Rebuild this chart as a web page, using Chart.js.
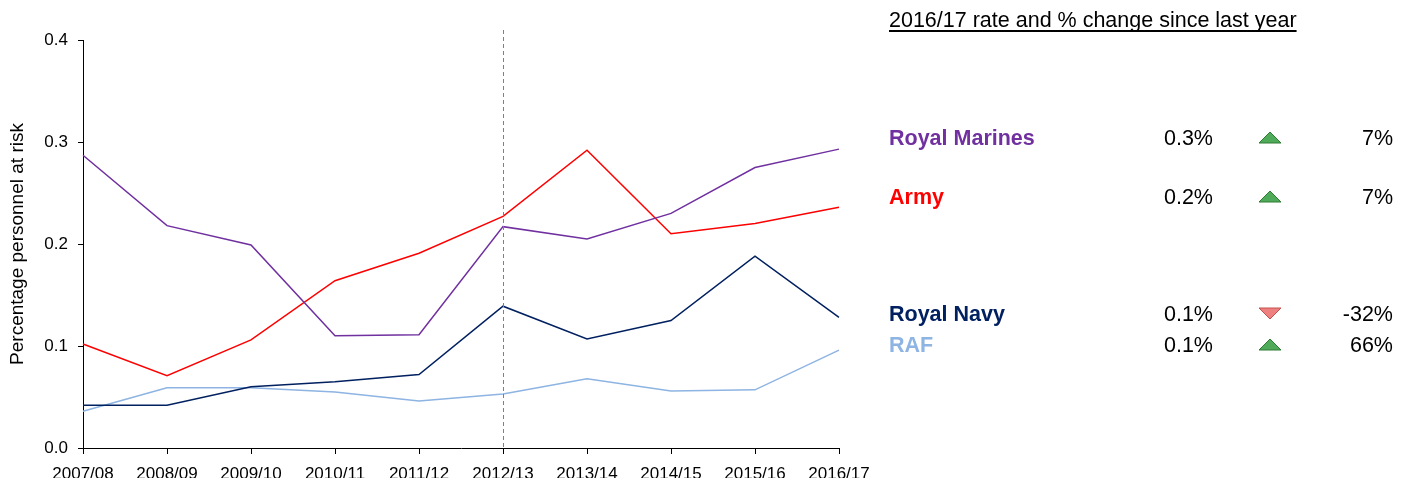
<!DOCTYPE html>
<html>
<head>
<meta charset="utf-8">
<script src="https://cdn.jsdelivr.net/npm/chart.js@4"></script>
<style>
  body { margin: 0; background: #fff; font-family: Arial, "Liberation Sans", sans-serif; }
  #wrap { position: relative; width: 1406px; height: 478px; overflow: hidden; }
  #chartBox { position: absolute; left: 0; top: 0; width: 880px; height: 478px; }
  #panel { position: absolute; left: 0; top: 0; width: 1406px; height: 478px; }
  .ptitle { position: absolute; left: 889px; top: 10px; font-size: 21.5px; line-height: 21px;
    color: #000; text-decoration: underline; text-decoration-thickness: 2px; text-underline-offset: 3px;
    text-decoration-skip-ink: none; white-space: nowrap; }
  .row { position: absolute; left: 0; width: 1406px; height: 21px; font-size: 21.5px; line-height: 21px; }
  .row .name { position: absolute; left: 889px; font-weight: bold; white-space: nowrap; }
  .row .rate { position: absolute; right: calc(1406px - 1213px); color: #000; }
  .row .arrow { position: absolute; left: 1258px; top: -1px; }
  .row .chg { position: absolute; right: calc(1406px - 1393px); color: #000; }
</style>
</head>
<body>
<div id="wrap">
  <div id="chartBox"><canvas id="myChart"></canvas></div>
  <div id="panel"></div>
</div>
<script>
    var years = ['2007/08', '2008/09', '2009/10', '2010/11', '2011/12', '2012/13', '2013/14', '2014/15', '2015/16', '2016/17'];
    var royalMarines = [0.287, 0.218, 0.199, 0.110, 0.111, 0.217, 0.205, 0.230, 0.275, 0.293];
    var army = [0.102, 0.071, 0.106, 0.164, 0.191, 0.227, 0.292, 0.210, 0.220, 0.236];
    var royalNavy = [0.042, 0.042, 0.060, 0.065, 0.072, 0.139, 0.107, 0.125, 0.188, 0.128];
    var raf = [0.036, 0.059, 0.059, 0.055, 0.046, 0.053, 0.068, 0.056, 0.057, 0.096];

    // right hand summary table
    var panelNames = ['Royal Marines', 'Army', 'Royal Navy', 'RAF'];
    var panelColors = ['#7030A0', '#FF0000', '#002060', '#8DB4E2'];
    var panelRates = ['0.3%', '0.2%', '0.1%', '0.1%'];
    var panelChanges = [7, 7, -32, 66];
    var panelTops = [128, 187, 304, 335];

    var markerYear = '2012/13';

    const dashLine = {
        id: 'dashLine',
        afterDatasetsDraw(chart) {
            const ctx = chart.ctx;
            const x = chart.scales.x.getPixelForValue(years.indexOf(markerYear));
            ctx.save();
            ctx.strokeStyle = '#808080';
            ctx.lineWidth = 1;
            ctx.setLineDash([4, 3]);
            ctx.beginPath();
            ctx.moveTo(Math.round(x) + 0.5, chart.chartArea.top - 10);
            ctx.lineTo(Math.round(x) + 0.5, chart.chartArea.bottom);
            ctx.stroke();
            ctx.restore();
        }
    };

    Chart.defaults.font.family = 'Arial, "Liberation Sans", sans-serif';
    Chart.defaults.color = '#000';

    const ctx = document.getElementById('myChart').getContext('2d');
    const myChart = new Chart(ctx, {
        type: 'line',
        data: {
            labels: years,
            datasets: [
                { label: 'Royal Marines', data: royalMarines, borderColor: '#7030A0' },
                { label: 'Army', data: army, borderColor: '#FF0000' },
                { label: 'Royal Navy', data: royalNavy, borderColor: '#002060' },
                { label: 'RAF', data: raf, borderColor: '#8DB4E2' }
            ]
        },
        options: {
            responsive: true,
            maintainAspectRatio: false,
            animation: false,
            layout: { padding: { top: 40, right: 41, left: 0, bottom: 0 } },
            elements: {
                line: { borderWidth: 1.5, tension: 0, fill: false },
                point: { radius: 0 }
            },
            plugins: {
                legend: { display: false },
                tooltip: { enabled: false }
            },
            scales: {
                x: {
                    offset: false,
                    grid: { display: true, drawOnChartArea: false, drawTicks: true, tickLength: 6, color: '#000' },
                    border: { color: '#000', width: 1 },
                    ticks: { font: { size: 17 }, padding: 10, maxRotation: 0, autoSkip: false },
                    afterFit: function (scale) { scale.height = 30; }
                },
                y: {
                    min: 0,
                    max: 0.4,
                    grid: { display: true, drawOnChartArea: false, drawTicks: true, tickLength: 5, color: '#000' },
                    border: { color: '#000', width: 1 },
                    ticks: {
                        stepSize: 0.1,
                        font: { size: 17 },
                        padding: 10,
                        callback: function (v) { return v.toFixed(1); }
                    },
                    title: {
                        display: true,
                        text: 'Percentage personnel at risk',
                        font: { size: 19 },
                        padding: { top: 6, bottom: 0 }
                    },
                    afterFit: function (scale) { scale.width = 83; }
                }
            }
        },
        plugins: [dashLine]
    });

    // build summary panel
    var panel = document.getElementById('panel');
    var t = document.createElement('div');
    t.className = 'ptitle';
    t.textContent = '2016/17 rate and % change since last year';
    panel.appendChild(t);

    panelNames.forEach(function (name, i) {
        var row = document.createElement('div');
        row.className = 'row';
        row.style.top = panelTops[i] + 'px';
        var up = panelChanges[i] >= 0;
        var tri = up
            ? '<svg width="24" height="13"><polygon points="1,12 12,1 23,12" fill="#4FAA5A" stroke="#2E7D32" stroke-width="1"/></svg>'
            : '<svg width="24" height="13"><polygon points="1,1 12,12 23,1" fill="#EE8080" stroke="#C0504D" stroke-width="1"/></svg>';
        row.innerHTML =
            '<span class="name" style="color:' + panelColors[i] + '">' + name + '</span>' +
            '<span class="rate">' + panelRates[i] + '</span>' +
            '<span class="arrow">' + tri + '</span>' +
            '<span class="chg">' + panelChanges[i] + '%</span>';
        panel.appendChild(row);
    });
</script>
</body>
</html>
